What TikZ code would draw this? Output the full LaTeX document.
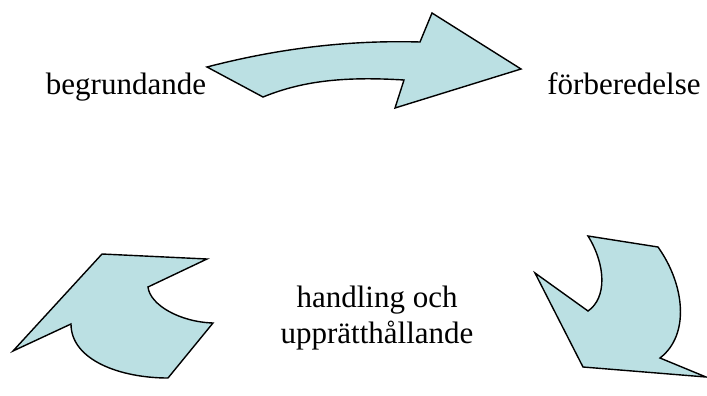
\documentclass[tikz,border=0pt]{standalone}
\usepackage{fontspec}
\setmainfont{Liberation Serif}
\usepackage{tikz}
\usetikzlibrary{positioning}

\definecolor{arrowfill}{HTML}{BBE0E3}

\begin{document}
\begin{tikzpicture}[x=1pt,y=-1pt,
	cyclearrow/.style={draw=black, line width=1.4pt, fill=arrowfill, line join=miter},
	phase/.style={font=\fontsize{31}{36}\selectfont, inner sep=0pt, align=center}]
	\useasboundingbox (0,0) rectangle (707,396);
	% labels
	\node[phase, anchor=base] (beg) at (126,94) {begrundande};
	\node[phase, anchor=base] (forb) at (624,94) {förberedelse};
	\node[phase, anchor=base] (hand) at (377,343) {handling och\\upprätthållande};
	% top arrow
	\draw[cyclearrow] (207,67) .. controls (280,48) and (350,40) .. (420,42)
		-- (432,13) -- (521,69) -- (395,108) -- (404,80)
		.. controls (340,76) and (300,82) .. (263,97) -- cycle;
	% right arrow
	\draw[cyclearrow] (588,236) -- (658,247)
		.. controls (685,285) and (690,335) .. (660,358)
		-- (706,377) -- (583,367) -- (535,273) -- (588,311)
		.. controls (607,298) and (606,265) .. (588,236) -- cycle;
	% left arrow
	\draw[cyclearrow] (102,254) -- (207,259) -- (148,287)
		.. controls (150,305) and (180,322) .. (213,323)
		-- (168,378)
		.. controls (120,378) and (71,360) .. (71,324)
		-- (13,351) -- cycle;
\end{tikzpicture}
\end{document}
